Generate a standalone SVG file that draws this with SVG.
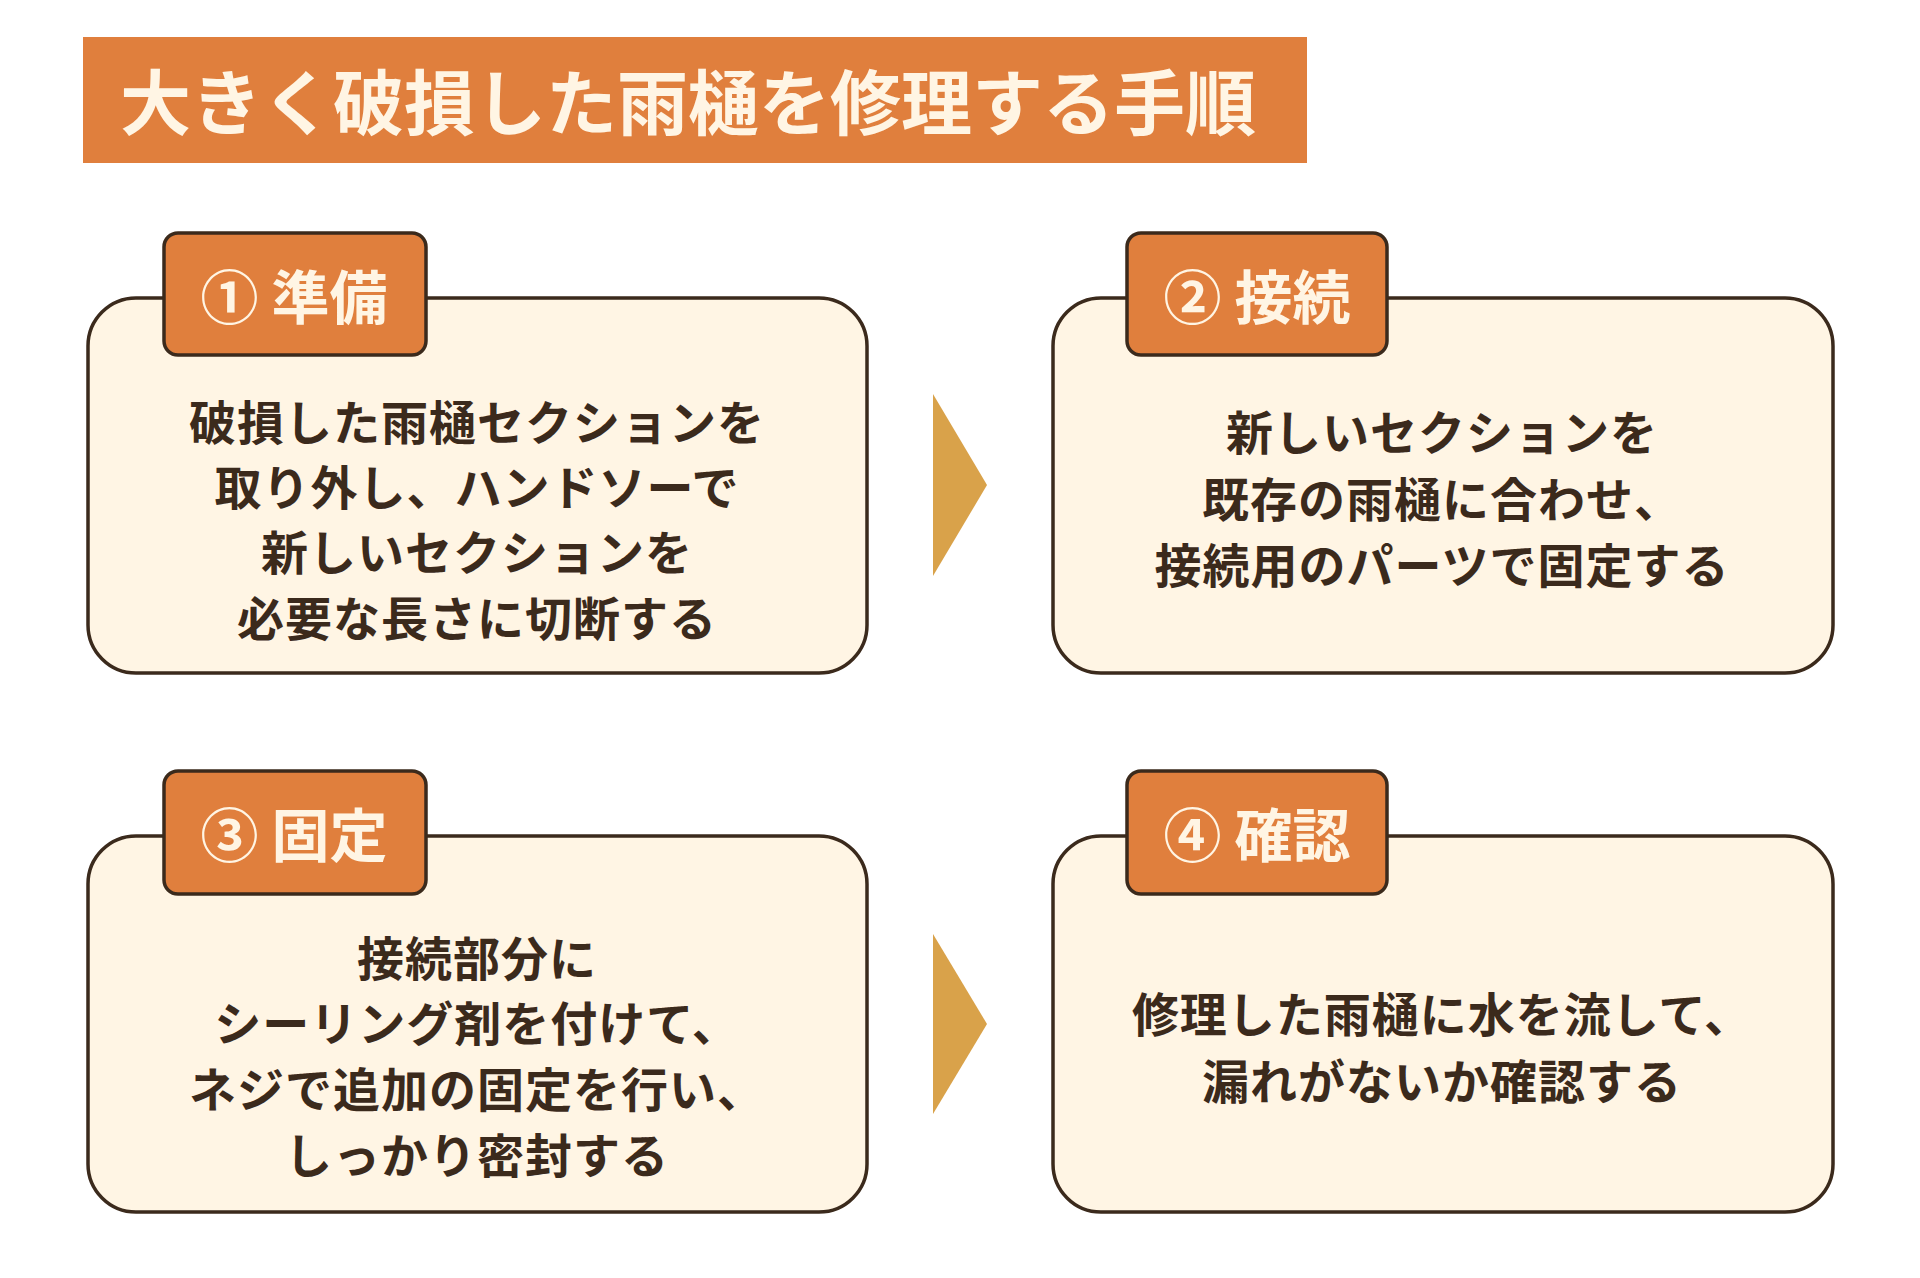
<svg xmlns="http://www.w3.org/2000/svg" width="1920" height="1278" viewBox="0 0 1920 1278">
<style>
.box{fill:#FFF5E4;stroke:#3B2A1C;stroke-width:3.5}
.lab{fill:#E07F3D;stroke:#3B2A1C;stroke-width:3.5}
.lt{font-family:"Noto Sans CJK JP",sans-serif;font-weight:bold;font-size:58px;fill:#FFF5E4;text-anchor:middle;dominant-baseline:central}
.bt{font-family:"Noto Sans CJK JP",sans-serif;font-weight:bold;font-size:47px;fill:#3B2A1C;text-anchor:middle;dominant-baseline:central;letter-spacing:1px}
.arr{fill:#D9A24A}
</style>
<rect width="1920" height="1278" fill="#FFFFFF"/>
<g id="title">
<rect x="83" y="37" width="1224" height="126" fill="#E07F3D"/>
<text x="120" y="98" font-family="Noto Sans CJK JP,sans-serif" font-weight="bold" font-size="71" fill="#FFF5E4" dominant-baseline="central">大きく破損した雨樋を修理する手順</text>
</g>
<g id="step1">
<rect class="box" x="88" y="298" width="779" height="375" rx="48"/>
<rect class="lab" x="164" y="233" width="262" height="122" rx="14"/>
<text class="lt" x="294" y="294">① 準備</text>
<text class="bt" x="477" y="419">破損した雨樋セクションを</text>
<text class="bt" x="477" y="484">取り外し、ハンドソーで</text>
<text class="bt" x="477" y="549">新しいセクションを</text>
<text class="bt" x="477" y="615">必要な長さに切断する</text>
</g>
<g id="step2">
<rect class="box" x="1053" y="298" width="780" height="375" rx="48"/>
<rect class="lab" x="1127" y="233" width="260" height="122" rx="14"/>
<text class="lt" x="1257" y="294">② 接続</text>
<text class="bt" x="1442" y="429">新しいセクションを</text>
<text class="bt" x="1442" y="496">既存の雨樋に合わせ、</text>
<text class="bt" x="1442" y="562">接続用のパーツで固定する</text>
</g>
<g id="step3">
<rect class="box" x="88" y="836" width="779" height="376" rx="48"/>
<rect class="lab" x="164" y="771" width="262" height="123" rx="14"/>
<text class="lt" x="294" y="832">③ 固定</text>
<text class="bt" x="477" y="955">接続部分に</text>
<text class="bt" x="477" y="1020">シーリング剤を付けて、</text>
<text class="bt" x="477" y="1086">ネジで追加の固定を行い、</text>
<text class="bt" x="477" y="1152">しっかり密封する</text>
</g>
<g id="step4">
<rect class="box" x="1053" y="836" width="780" height="376" rx="48"/>
<rect class="lab" x="1127" y="771" width="260" height="123" rx="14"/>
<text class="lt" x="1257" y="832">④ 確認</text>
<text class="bt" x="1442" y="1011">修理した雨樋に水を流して、</text>
<text class="bt" x="1442" y="1078">漏れがないか確認する</text>
</g>
<g id="connectors">
<polygon class="arr" points="933,394 987,485 933,576"/>
<polygon class="arr" points="933,934 987,1024 933,1114"/>
</g>
</svg>
